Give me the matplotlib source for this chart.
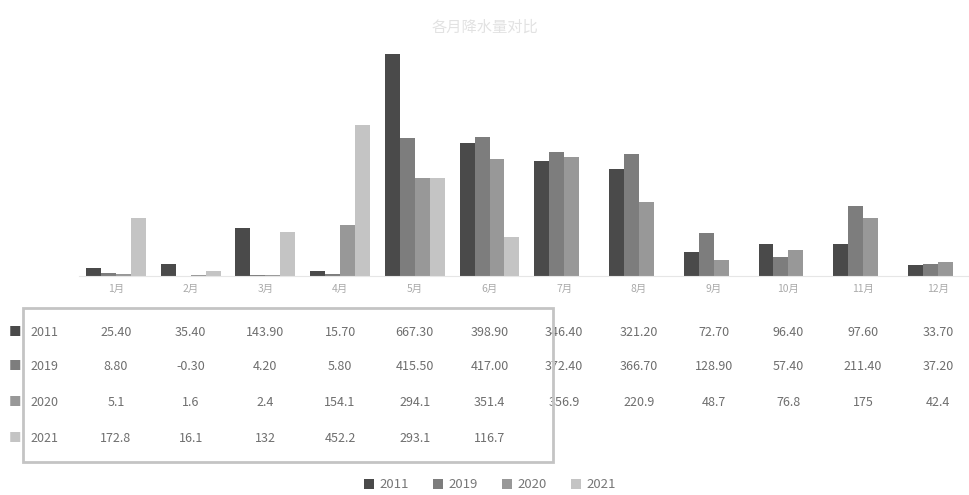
import matplotlib
import matplotlib.pyplot as plt
import matplotlib.transforms as mtransforms
from matplotlib.patches import Rectangle

matplotlib.use("Agg")
plt.rcParams['font.family'] = ['Noto Sans CJK SC', 'DejaVu Sans']

# data
months = ["1月", "2月", "3月", "4月", "5月", "6月", "7月", "8月", "9月", "10月", "11月", "12月"]
years = ["2011", "2019", "2020", "2021"]
v2011 = [25.40, 35.40, 143.90, 15.70, 667.30, 398.90, 346.40, 321.20, 72.70, 96.40, 97.60, 33.70]
v2019 = [8.80, -0.30, 4.20, 5.80, 415.50, 417.00, 372.40, 366.70, 128.90, 57.40, 211.40, 37.20]
v2020 = [5.1, 1.6, 2.4, 154.1, 294.1, 351.4, 356.9, 220.9, 48.7, 76.8, 175, 42.4]
v2021 = [172.8, 16.1, 132, 452.2, 293.1, 116.7]

series = [v2011, v2019, v2020, v2021]
colors = ["#4a4a4a", "#7d7d7d", "#989898", "#c4c4c4"]
fmts = ["{:.2f}", "{:.2f}", "{:g}", "{:g}"]

W, H = 970, 495
fig = plt.figure(figsize=(W / 100, H / 100), dpi=100)
ax = fig.add_axes([0.081, 1 - 276 / H, 0.9205, 233 / H])

bw = 0.2
offsets = [-0.3, -0.1, 0.1, 0.3]
for vals, c, off, name in zip(series, colors, offsets, years):
    xs = [i + off for i in range(len(vals))]
    ax.bar(xs, vals, width=bw, color=c, label=name, linewidth=0)

ax.set_xlim(-0.5, 11.45)
ax.set_ylim(0, 700)
ax.set_xticks(range(len(months)))
ax.set_xticklabels(months, fontsize=7.5, color="#aaaaaa")
ax.tick_params(axis="x", length=0, pad=6)
ax.set_yticks([])
for s in ["top", "right", "left"]:
    ax.spines[s].set_visible(False)
ax.spines["bottom"].set_color("#e6e6e6")

# data table under the chart
trans = mtransforms.blended_transform_factory(ax.transData, fig.transFigure)
row_y = [333, 367, 403, 438]
for vals, c, fmt, name, y in zip(series, colors, fmts, years, row_y):
    fy = 1 - y / H
    fig.text(15 / W, fy, "■", color=c, fontsize=9, ha="center", va="center")
    fig.text(30 / W, fy, name, color="#707070", fontsize=9, ha="left", va="center")
    for i, v in enumerate(vals):
        ax.text(i, fy, fmt.format(v), transform=trans, color="#6e6e6e",
                fontsize=9, ha="center", va="center", clip_on=False)

fig.patches.append(Rectangle((23 / W, 1 - 462 / H), 530 / W, 154 / H,
                             transform=fig.transFigure, fill=False,
                             edgecolor="#c4c4c4", linewidth=2))

fig.text(0.5, 1 - 27 / H, "各月降水量对比", color="#e2e2e2", fontsize=11,
         ha="center", va="center")

handles, labels = ax.get_legend_handles_labels()
fig.legend(handles, labels, loc="center", bbox_to_anchor=(0.505, 1 - 485 / H),
           ncol=4, frameon=False, fontsize=9.5, labelcolor="#777777",
           handlelength=0.8, handleheight=0.8, columnspacing=1.8, handletextpad=0.4)

fig.savefig("out.png", dpi=100)
